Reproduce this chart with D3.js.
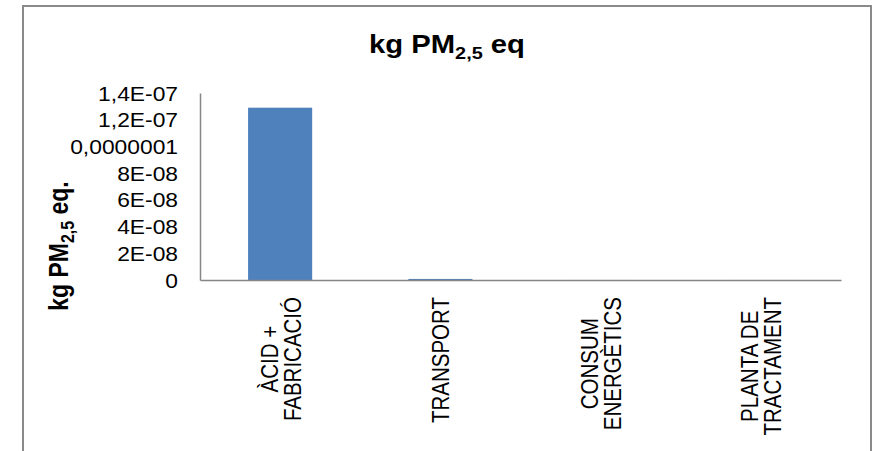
<!DOCTYPE html>
<html>
<head>
<meta charset="utf-8">
<script src="https://cdn.jsdelivr.net/npm/d3@7"></script>
<style>
  html, body { margin: 0; padding: 0; background: #fff; }
  svg { display: block; }
  text { font-family: "Liberation Sans", Arial, sans-serif; fill: #000; }
</style>
</head>
<body>
<script>
// ---- data ----
const categories = ["ÀCID +\nFABRICACIÓ", "TRANSPORT", "CONSUM\nENERGÈTICS", "PLANTA DE\nTRACTAMENT"];
const values = [1.29e-7, 8e-10, 1e-11, 2e-11];
const yTickValues = [0, 2e-8, 4e-8, 6e-8, 8e-8, 1e-7, 1.2e-7, 1.4e-7];
const yTickLabels = ["0", "2E-08", "4E-08", "6E-08", "8E-08", "0,0000001", "1,2E-07", "1,4E-07"];
const titleMain = "kg PM";
const titleSub = "2,5";
const titleEnd = " eq";
const yLabelEnd = "  eq.";

const W = 874, H = 451;
const sx = 1.17; // horizontal text stretch
const svg = d3.select("body").append("svg").attr("width", W).attr("height", H);

svg.append("rect").attr("width", W).attr("height", H).attr("fill", "#fff");

// outer border (open at bottom)
svg.append("path").attr("d", "M23,470V6H871V470")
  .attr("fill", "none").attr("stroke", "#8a8a8a").attr("stroke-width", 2);

const plot = { left: 200, right: 841, top: 93, bottom: 280 };

const x = d3.scaleBand().domain(categories).range([plot.left, plot.right])
  .paddingInner(0.6).paddingOuter(0.3);
const y = d3.scaleLinear().domain([0, 1.4e-7]).range([plot.bottom, plot.top]);

// bars
svg.append("g").selectAll("rect").data(categories).join("rect")
  .attr("x", d => x(d))
  .attr("width", x.bandwidth())
  .attr("y", (d, i) => y(values[i]))
  .attr("height", (d, i) => y(0) - y(values[i]))
  .attr("fill", "#4f81bd");

// y axis
const yAxis = svg.append("g").attr("transform", `translate(${plot.left},0)`)
  .call(d3.axisLeft(y).tickValues(yTickValues).tickSize(0).tickSizeOuter(0)
    .tickFormat((d, i) => yTickLabels[i]));
yAxis.select(".domain").attr("stroke", "#868686").attr("stroke-width", 1.5);
yAxis.selectAll(".tick text")
  .attr("font-size", 19.5)
  .attr("font-family", "Liberation Sans, Arial, sans-serif")
  .attr("fill", "#000")
  .attr("x", -22 / sx)
  .attr("dy", "0.36em")
  .attr("transform", `scale(${sx},1)`);

// x axis
const xAxis = svg.append("g").attr("transform", `translate(0,${plot.bottom})`)
  .call(d3.axisBottom(x).tickSize(0).tickSizeOuter(0).tickFormat(""));
xAxis.select(".domain").attr("stroke", "#868686").attr("stroke-width", 1.5);
xAxis.selectAll(".tick text").remove();
xAxis.selectAll(".tick").each(function(d) {
  const lines = d.split("\n");
  const n = lines.length;
  const fs = 20.5;
  const lh = 23;
  const t = d3.select(this).append("text")
    .attr("font-size", fs)
    .attr("font-family", "Liberation Sans, Arial, sans-serif")
    .attr("fill", "#000")
    .attr("text-anchor", "middle");
  const spans = lines.map((ln, i) => t.append("tspan")
    .attr("x", 0)
    .attr("y", ((i - (n - 1) / 2) * lh + 9) / sx)
    .text(ln));
  const L = d3.max(spans, s => s.node().getComputedTextLength());
  spans.forEach(s => s.attr("x", -L / 2));
  t.attr("transform", `translate(0,17) scale(${sx},1) rotate(-90)`);
});

// title
const title = svg.append("text")
  .attr("transform", `translate(447,53) scale(${sx},1)`)
  .attr("text-anchor", "middle")
  .attr("font-size", 25).attr("font-weight", "bold");
title.append("tspan").text(titleMain);
title.append("tspan").attr("font-size", 17).attr("dy", 6).text(titleSub);
title.append("tspan").attr("dy", -6).text(titleEnd);

// y label
const yl = svg.append("text")
  .attr("transform", `translate(68,246) scale(1.2,1) rotate(-90)`)
  .attr("text-anchor", "middle")
  .attr("font-size", 23).attr("font-weight", "bold");
yl.append("tspan").text(titleMain);
yl.append("tspan").attr("font-size", 16).attr("dy", 5).text(titleSub);
yl.append("tspan").attr("dy", -5).text(yLabelEnd);
</script>
</body>
</html>
